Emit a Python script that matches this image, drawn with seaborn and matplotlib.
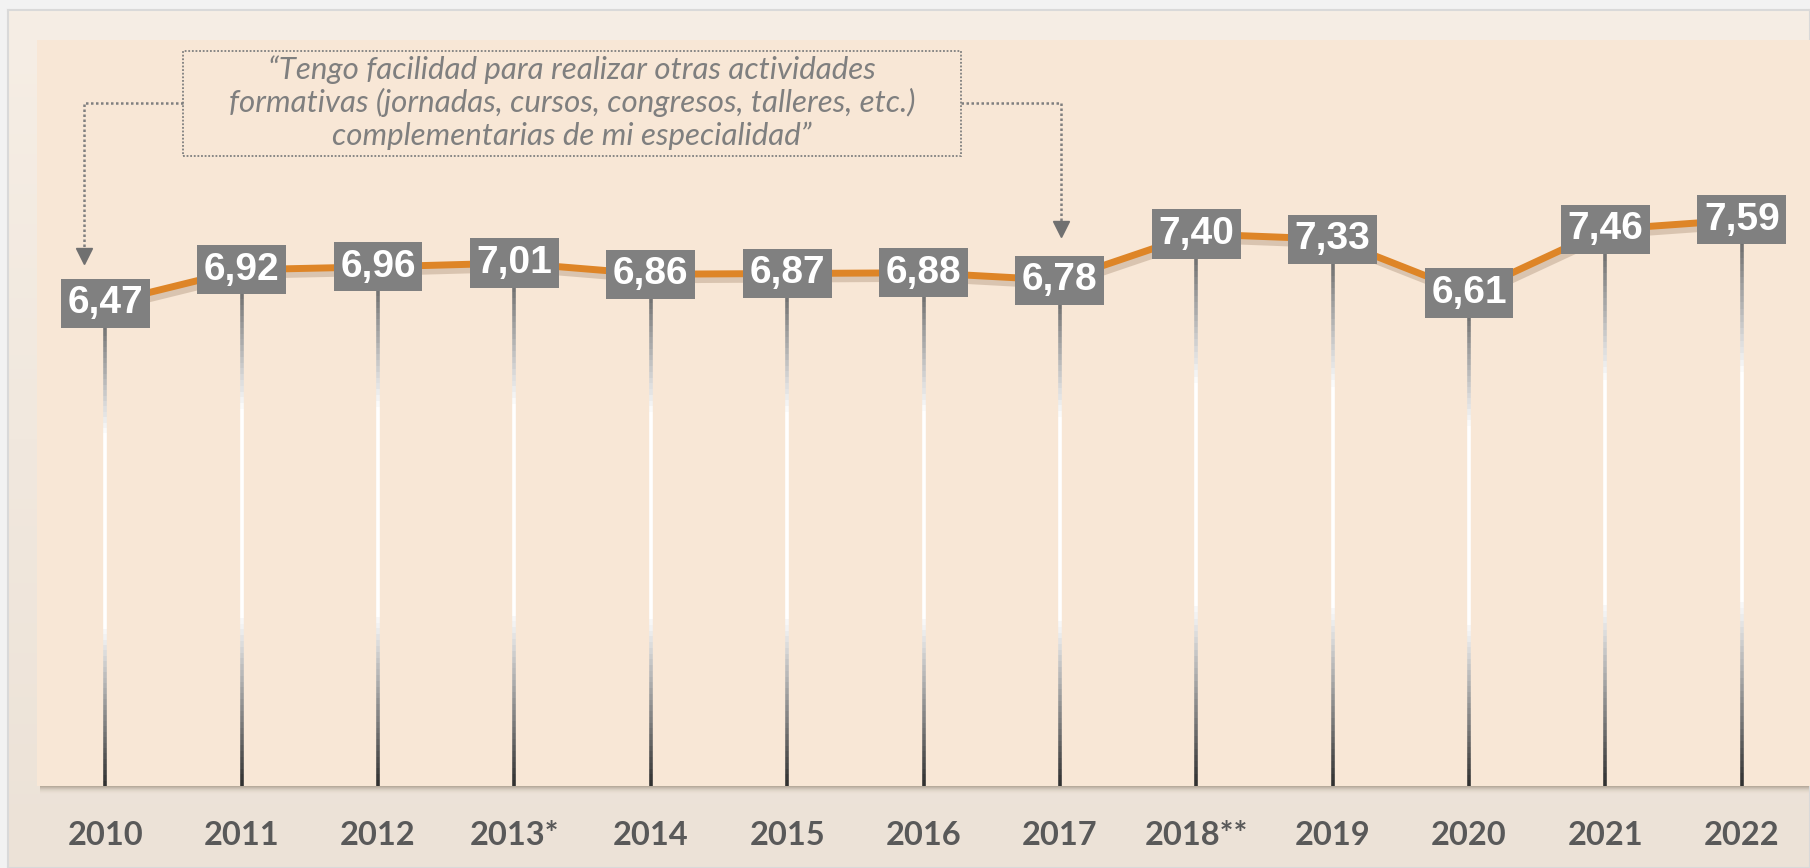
import numpy as np
import pandas as pd
import matplotlib
matplotlib.use('Agg')
import matplotlib.pyplot as plt
import matplotlib.patheffects as pe
from matplotlib.collections import LineCollection
from matplotlib.colors import LinearSegmentedColormap
from matplotlib.patches import Rectangle
import seaborn as sns

# data
years = ['2010', '2011', '2012', '2013*', '2014', '2015', '2016', '2017',
         '2018**', '2019', '2020', '2021', '2022']
scores = [6.47, 6.92, 6.96, 7.01, 6.86, 6.87, 6.88, 6.78, 7.40, 7.33, 6.61, 7.46, 7.59]
quote = ('\u201cTengo facilidad para realizar otras actividades\n'
         'formativas (jornadas, cursos, congresos, talleres, etc.)\n'
         'complementarias de mi especialidad\u201d')

ORANGE = '#DE8527'
PANEL = '#F8E7D6'
GREY = '#7F7F7F'

sns.set_style('white')
plt.rcParams['font.family'] = ['Liberation Sans', 'DejaVu Sans']

df = pd.DataFrame({'year': years, 'score': scores})
df['pos'] = np.arange(len(df))

W, H = 1810, 868
fig = plt.figure(figsize=(W / 100, H / 100), dpi=100)
fig.patch.set_facecolor('#F2F2F2')

# outer slide background with soft vertical gradient
bg = fig.add_axes([8 / W, 0, 1 - 8 / W, (H - 10) / H])
grad = np.linspace(0, 1, 256).reshape(-1, 1)
bg_cmap = LinearSegmentedColormap.from_list('bg', ['#F6EEE5', '#ECE2D7'])
bg.imshow(grad, aspect='auto', cmap=bg_cmap, extent=[0, 1, 0, 1], origin='upper')
bg.set_xticks([])
bg.set_yticks([])
for s in bg.spines.values():
    s.set_color('#D9D9D9')
    s.set_linewidth(1.5)

# panel position (pixels)
x0, x1, y_top, y_bot = 37, 1810, 40, 786
# soft shadow under the panel
for k, a in zip(range(1, 9), [0.3, 0.26, 0.21, 0.16, 0.11, 0.07, 0.04, 0.02]):
    bg.add_patch(Rectangle(((x0 + 3) / W, (H - y_bot - k) / H), (x1 - x0) / W, (y_bot - y_top) / H,
                           transform=fig.transFigure, fc='#6e5a45', ec='none', alpha=a * 0.4,
                           clip_on=False))

ax = fig.add_axes([x0 / W, (H - y_bot) / H, (x1 - x0) / W, (y_bot - y_top) / H])
ax.set_facecolor(PANEL)
ax.set_xlim(-0.5, 12.5)
ax.set_ylim(0, 10)

# gradient drop lines
drop_cmap = LinearSegmentedColormap.from_list(
    'drop', [(0, '#2f2f2f'), (0.33, '#ffffff'), (0.73, '#ffffff'), (1, '#555555')])
segs, cols = [], []
for x, v in zip(df['pos'], df['score']):
    ys = np.linspace(0, v, 90)
    for a, b in zip(ys[:-1], ys[1:]):
        segs.append([(x, a), (x, b)])
        cols.append(drop_cmap((a + b) / 2 / v))
ax.add_collection(LineCollection(segs, colors=cols, linewidths=2.6, zorder=2, capstyle='butt'))

# main line
sns.lineplot(data=df, x='pos', y='score', color=ORANGE, linewidth=5, ax=ax, zorder=3)
ax.lines[-1].set_path_effects([
    pe.SimpleLineShadow(offset=(2, -4), shadow_color='#6e4a2a', alpha=0.22),
    pe.Normal()])

# value boxes
for x, v in zip(df['pos'], df['score']):
    ax.text(x, v, f'{v:.2f}'.replace('.', ','), ha='center', va='center',
            fontsize=28, fontweight='bold', color='white', zorder=5,
            bbox=dict(boxstyle='square,pad=0.17', fc='#808080', ec='none'))

# axis styling
for s in ax.spines.values():
    s.set_visible(False)
ax.set_yticks([])
ax.set_xticks(df['pos'], df['year'])
ax.tick_params(axis='x', length=0, pad=25, labelsize=23.5, labelcolor='#595959')
for t in ax.get_xticklabels():
    t.set_fontfamily(['Lato', 'DejaVu Sans'])
    t.set_fontweight('bold')
ax.set_xlabel('')
ax.set_ylabel('')

# quote annotation
ax.add_patch(Rectangle((0.0823, 0.8445), 0.4387, 0.1408, transform=ax.transAxes,
                       fill=False, ec=GREY, ls=(0, (1, 1)), lw=1.3, zorder=4))
ax.text(0.3017, 0.916, quote, transform=ax.transAxes, ha='center', va='center',
        fontsize=22.5, style='italic', color=GREY, family=['Lato', 'DejaVu Sans'],
        linespacing=1.18, zorder=4)
ax.plot([0.0823, 0.0265, 0.0265], [0.9155, 0.9155, 0.72], transform=ax.transAxes,
        color=GREY, ls=(0, (1, 1)), lw=1.8, zorder=4)
ax.plot([0.0265], [0.711], transform=ax.transAxes, marker='v', ms=11, color='#707070',
        ls='none', zorder=4)
ax.plot([0.521, 0.5776, 0.5776], [0.9155, 0.9155, 0.755], transform=ax.transAxes,
        color=GREY, ls=(0, (1, 1)), lw=1.8, zorder=4)
ax.plot([0.5776], [0.746], transform=ax.transAxes, marker='v', ms=11, color='#707070',
        ls='none', zorder=4)

fig.savefig('out.png', dpi=100, facecolor=fig.get_facecolor())
